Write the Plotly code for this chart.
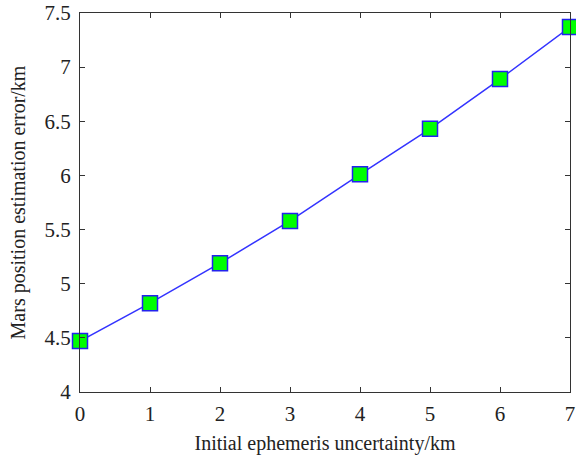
import plotly.graph_objects as go

uncertainty = [0, 1, 2, 3, 4, 5, 6, 7]
error = [4.47, 4.82, 5.19, 5.58, 6.01, 6.43, 6.89, 7.37]
x_ticks = [0, 1, 2, 3, 4, 5, 6, 7]
y_ticks = [4, 4.5, 5, 5.5, 6, 6.5, 7, 7.5]
y_labels = ["4", "4.5", "5", "5.5", "6", "6.5", "7", "7.5"]

font = "Liberation Serif, Times New Roman, serif"

fig = go.Figure(go.Scatter(
    x=uncertainty, y=error, mode="lines+markers",
    line=dict(color="#3333ff", width=1.5),
    marker=dict(symbol="square", size=15, color="#00ff00",
                line=dict(color="#2222ee", width=1.5)),
    cliponaxis=False,
))

axis_common = dict(
    showgrid=False, zeroline=False, showline=True, linecolor="#333333",
    linewidth=1, mirror="ticks", ticks="inside", ticklen=5,
    tickcolor="#333333", tickfont=dict(family=font, size=21, color="#222222"),
    ticklabeloverflow="allow",
)
fig.update_layout(
    width=576, height=457,
    margin=dict(l=80, r=6, t=13, b=65),
    paper_bgcolor="white", plot_bgcolor="white",
    showlegend=False,
    xaxis=dict(range=[0, 7], tickvals=x_ticks, ticklabelstandoff=3,
               automargin=False,
               title=dict(text="Initial ephemeris uncertainty/km",
                          font=dict(family=font, size=20, color="#222222"),
                          standoff=10),
               **axis_common),
    yaxis=dict(range=[4, 7.5], tickvals=y_ticks, ticktext=y_labels,
               ticklabelstandoff=4, automargin="left",
               title=dict(text="Mars position estimation error/km",
                          font=dict(family=font, size=20, color="#222222"),
                          standoff=13),
               **axis_common),
)
fig.write_html("out.html")
